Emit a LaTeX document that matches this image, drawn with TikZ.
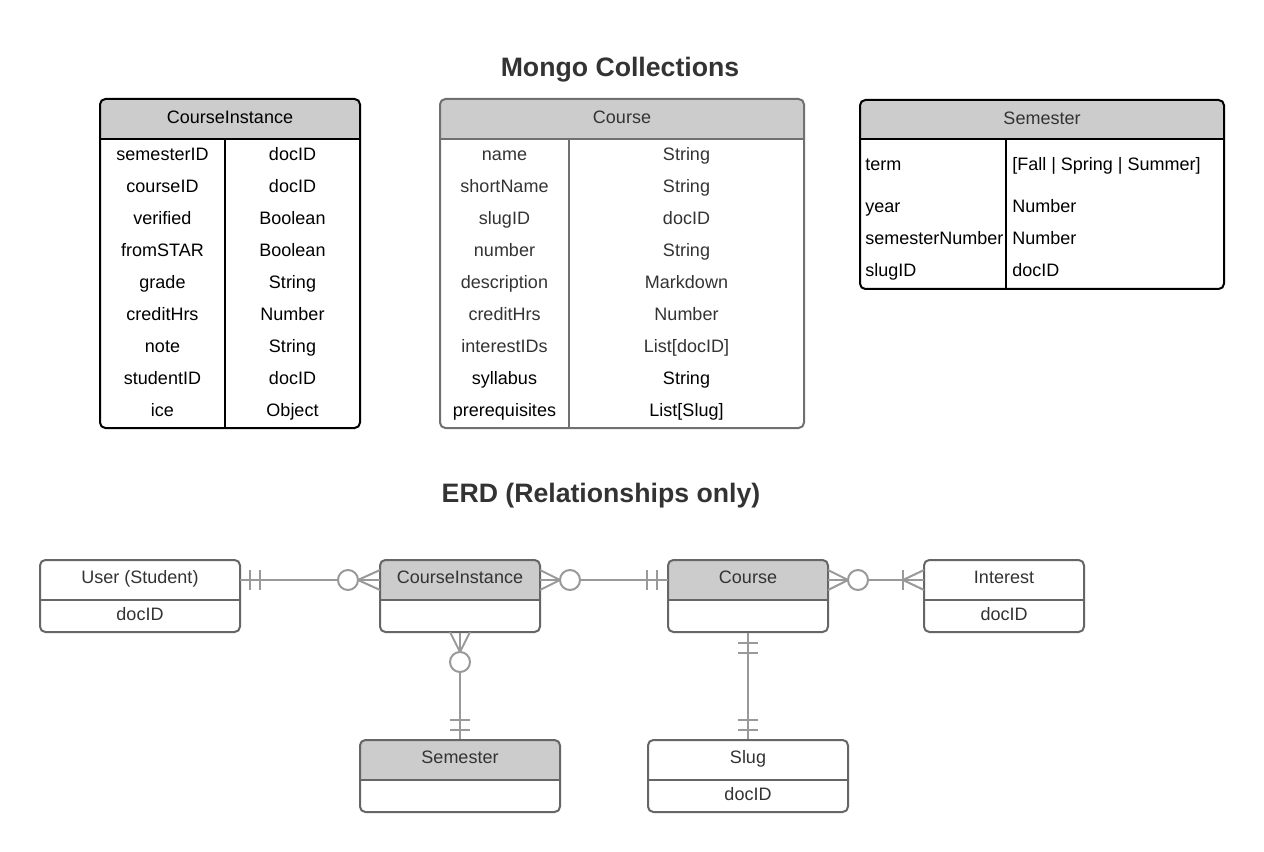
\documentclass[tikz,border=0pt]{standalone}
\usepackage{fontspec}
\setmainfont{Liberation Sans}
\usetikzlibrary{fit,calc}
\definecolor{hdr}{HTML}{CCCCCC}
\definecolor{txt}{HTML}{333333}
\definecolor{bord}{HTML}{666666}
\definecolor{cbord}{HTML}{707070}
\definecolor{conn}{HTML}{999999}
\begin{document}
\begin{tikzpicture}[x=0.75pt,y=-0.75pt,
  lbl/.style={font=\fontsize{13.5}{16}\selectfont, inner sep=0pt, text height=9.67pt, text depth=0pt, anchor=center},
  ttl/.style={font=\bfseries\fontsize{20}{24}\selectfont, text=txt, inner sep=0pt, text height=14.3pt, text depth=0pt},
  box/.style={inner sep=0pt, rounded corners=4pt, line width=1.5pt},
  region/.style={inner sep=0pt},
  cn/.style={draw=conn, line width=1.5pt},
  ring/.style={draw=conn, line width=1.5pt, fill=white}
]
\useasboundingbox (0,0) rectangle (1264,852);
\fill[white] (0,0) rectangle (1264,852);

% ---------- titles
\node[ttl] (t1) at (620,67) {Mongo Collections};
\node[ttl] (t2) at (601,493) {ERD (Relationships only)};

% ---------- CourseInstance table
\fill[hdr] (100,139) {[rounded corners=4pt] -- (100,99) -- (360,99)} -- (360,139) -- cycle;
\node[box, draw=black, fit={(100,99) (360,428)}] (citab) {};
\draw[line width=1.5pt, black] (citab.west |- 0,139) -- (citab.east |- 0,139);
\draw[line width=1.5pt, black] (225,139) -- (225,428);
\node[lbl] (citabh) at (230,117) {CourseInstance};
\foreach \a/\b [count=\i from 0] in {semesterID/docID, courseID/docID, verified/Boolean, fromSTAR/Boolean, grade/String, creditHrs/Number, note/String, studentID/docID, ice/Object}{
  \node[lbl] (cia\i) at (162.5,154+32*\i) {\a};
  \node[lbl] (cib\i) at (292.5,154+32*\i) {\b};
}

% ---------- Course table
\fill[hdr] (440,139) {[rounded corners=4pt] -- (440,99) -- (804,99)} -- (804,139) -- cycle;
\node[box, draw=cbord, fit={(440,99) (804,428)}] (cotab) {};
\draw[line width=1.5pt, cbord] (cotab.west |- 0,139) -- (cotab.east |- 0,139);
\draw[line width=1.5pt, cbord] (569,139) -- (569,428);
\node[lbl, text=txt] (cotabh) at (622,117) {Course};
\foreach \a/\b/\c [count=\i from 0] in {name/String/txt, shortName/String/txt, slugID/docID/txt, number/String/txt, description/Markdown/txt, creditHrs/Number/txt, interestIDs/{List[docID]}/txt, syllabus/String/black, prerequisites/{List[Slug]}/black}{
  \node[lbl, text=\c] (coa\i) at (504.5,154+32*\i) {\a};
  \node[lbl, text=\c] (cob\i) at (686.5,154+32*\i) {\b};
}

% ---------- Semester table
\fill[hdr] (860,139) {[rounded corners=4pt] -- (860,100) -- (1224,100)} -- (1224,139) -- cycle;
\node[box, draw=black, fit={(860,100) (1224,289)}] (setab) {};
\draw[line width=1.5pt, black] (setab.west |- 0,139) -- (setab.east |- 0,139);
\draw[line width=1.5pt, black] (1006,139) -- (1006,289);
\node[lbl, text=txt] (setabh) at (1042,118) {Semester};
\foreach \a/\b/\y [count=\i from 0] in {term/{[Fall | Spring | Summer]}/164, year/Number/206, semesterNumber/Number/238, slugID/docID/270}{
  \node[lbl, anchor=west] (sea\i) at (865,\y) {\a};
  \node[lbl, anchor=west] (seb\i) at (1012,\y) {\b};
}

% ---------- ERD boxes
% User
\node[box, draw=bord, fit={(40,560) (240,632)}] (user) {};
\node[region, fit={(40,560) (240,600)}] (userH) {};
\draw[line width=1.5pt, bord] (40,600) -- (240,600);
\node[lbl, text=txt] (usert) at (140,577.5) {User (Student)};
\node[lbl, text=txt] (userd) at (140,614) {docID};
% CourseInstance
\fill[hdr] (380,600) {[rounded corners=4pt] -- (380,560) -- (540,560)} -- (540,600) -- cycle;
\node[box, draw=bord, fit={(380,560) (540,632)}] (ci) {};
\node[region, fit={(380,560) (540,600)}] (ciH) {};
\draw[line width=1.5pt, bord] (380,600) -- (540,600);
\node[lbl, text=txt] (cit) at (460,577.5) {CourseInstance};
% Course
\fill[hdr] (668,600) {[rounded corners=4pt] -- (668,560) -- (828,560)} -- (828,600) -- cycle;
\node[box, draw=bord, fit={(668,560) (828,632)}] (co) {};
\node[region, fit={(668,560) (828,600)}] (coH) {};
\draw[line width=1.5pt, bord] (668,600) -- (828,600);
\node[lbl, text=txt] (cot) at (748,577.5) {Course};
% Interest
\node[box, draw=bord, fit={(924,560) (1084,632)}] (in) {};
\node[region, fit={(924,560) (1084,600)}] (inH) {};
\draw[line width=1.5pt, bord] (924,600) -- (1084,600);
\node[lbl, text=txt] (intt) at (1004,577.5) {Interest};
\node[lbl, text=txt] (ind) at (1004,614) {docID};
% Semester
\fill[hdr] (360,780) {[rounded corners=4pt] -- (360,740) -- (560,740)} -- (560,780) -- cycle;
\node[box, draw=bord, fit={(360,740) (560,812)}] (se) {};
\draw[line width=1.5pt, bord] (360,780) -- (560,780);
\node[lbl, text=txt] (set) at (460,757.5) {Semester};
% Slug
\node[box, draw=bord, fit={(648,740) (848,812)}] (sl) {};
\draw[line width=1.5pt, bord] (648,780) -- (848,780);
\node[lbl, text=txt] (slt) at (748,757.5) {Slug};
\node[lbl, text=txt] (sld) at (748,794) {docID};

% ---------- connectors
\draw[cn] (userH.east) -- (ciH.west);
\draw[cn] (ciH.east) -- (coH.west);
\draw[cn] (coH.east) -- (inH.west);
\draw[cn] (ci.south) -- (se.north);
\draw[cn] (co.south) -- (sl.north);

% User -- CourseInstance : one-and-only-one / zero-or-many
\draw[cn] (250,570) -- (250,590) (260,570) -- (260,590);
\draw[cn] (358,580) -- (380,570) (358,580) -- (380,590);
\draw[ring] (348,580) circle[radius=10];
% CourseInstance -- Course : zero-or-many / one-and-only-one
\draw[cn] (540,570) -- (560,580) -- (540,590);
\draw[ring] (570,580) circle[radius=10];
\draw[cn] (647,570) -- (647,590) (657,570) -- (657,590);
% Course -- Interest : zero-or-many / one-or-many
\draw[cn] (828,570) -- (848,580) -- (828,590);
\draw[ring] (858,580) circle[radius=10];
\draw[cn] (903,570) -- (903,590);
\draw[cn] (924,570) -- (903,580) -- (924,590);
% CourseInstance -- Semester
\draw[cn] (450,632) -- (460,652) -- (470,632);
\draw[ring] (460,662) circle[radius=10];
\draw[cn] (450,720) -- (470,720) (450,730) -- (470,730);
% Course -- Slug
\draw[cn] (738,643) -- (758,643) (738,653) -- (758,653);
\draw[cn] (738,720) -- (758,720) (738,730) -- (758,730);
\end{tikzpicture}
\end{document}
